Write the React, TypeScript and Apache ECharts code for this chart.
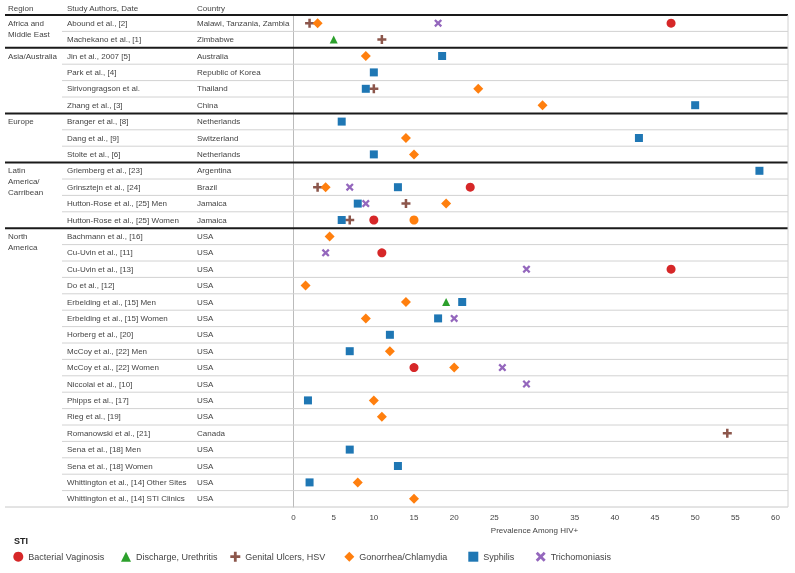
import React, { useEffect, useRef } from "react";
import * as echarts from "echarts";

const regions = ["Africa and\nMiddle East", "Asia/Australia", "Europe", "Latin\nAmerica/\nCarribean", "North\nAmerica"];
const regionSizes = [2, 4, 3, 4, 17];

const authors = [
  "Abound et al., [2]",
  "Machekano et al., [1]",
  "Jin et al., 2007 [5]",
  "Park et al., [4]",
  "Sirivongragson et al.",
  "Zhang et al., [3]",
  "Branger et al., [8]",
  "Dang et al., [9]",
  "Stolte et al., [6]",
  "Griemberg et al., [23]",
  "Grinsztejn et al., [24]",
  "Hutton-Rose et al., [25] Men",
  "Hutton-Rose et al., [25] Women",
  "Bachmann et al., [16]",
  "Cu-Uvin et al., [11]",
  "Cu-Uvin et al., [13]",
  "Do et al., [12]",
  "Erbelding et al., [15] Men",
  "Erbelding et al., [15] Women",
  "Horberg et al., [20]",
  "McCoy et al., [22] Men",
  "McCoy et al., [22] Women",
  "Niccolai et al., [10]",
  "Phipps et al., [17]",
  "Rieg et al., [19]",
  "Romanowski et al., [21]",
  "Sena et al., [18] Men",
  "Sena et al., [18] Women",
  "Whittington et al., [14] Other Sites",
  "Whittington et al., [14] STI Clinics",
];

const countries = [
  "Malawi, Tanzania, Zambia", "Zimbabwe",
  "Australia", "Republic of Korea", "Thailand", "China",
  "Netherlands", "Switzerland", "Netherlands",
  "Argentina", "Brazil", "Jamaica", "Jamaica",
  "USA", "USA", "USA", "USA", "USA", "USA", "USA", "USA", "USA", "USA", "USA", "USA",
  "Canada", "USA", "USA", "USA", "USA",
];

const seriesNames = ["Bacterial Vaginosis", "Discharge, Urethritis", "Genital Ulcers, HSV", "Gonorrhea/Chlamydia", "Syphilis", "Trichomoniasis"];

const bacterialVaginosis: [string, number][] = [
  ["Abound et al., [2]", 47],
  ["Grinsztejn et al., [24]", 22],
  ["Hutton-Rose et al., [25] Women", 10],
  ["Cu-Uvin et al., [11]", 11],
  ["Cu-Uvin et al., [13]", 47],
  ["McCoy et al., [22] Women", 15],
];
const dischargeUrethritis: [string, number][] = [
  ["Machekano et al., [1]", 5],
  ["Erbelding et al., [15] Men", 19],
];
const genitalUlcers: [string, number][] = [
  ["Abound et al., [2]", 2],
  ["Machekano et al., [1]", 11],
  ["Sirivongragson et al.", 10],
  ["Grinsztejn et al., [24]", 3],
  ["Hutton-Rose et al., [25] Men", 14],
  ["Hutton-Rose et al., [25] Women", 7],
  ["Romanowski et al., [21]", 54],
];
const gonorrheaChlamydia: [string, number][] = [
  ["Abound et al., [2]", 3],
  ["Jin et al., 2007 [5]", 9],
  ["Sirivongragson et al.", 23],
  ["Zhang et al., [3]", 31],
  ["Dang et al., [9]", 14],
  ["Stolte et al., [6]", 15],
  ["Grinsztejn et al., [24]", 4],
  ["Hutton-Rose et al., [25] Men", 19],
  ["Hutton-Rose et al., [25] Women", 15],
  ["Bachmann et al., [16]", 4.5],
  ["Do et al., [12]", 1.5],
  ["Erbelding et al., [15] Men", 14],
  ["Erbelding et al., [15] Women", 9],
  ["McCoy et al., [22] Men", 12],
  ["McCoy et al., [22] Women", 20],
  ["Phipps et al., [17]", 10],
  ["Rieg et al., [19]", 11],
  ["Whittington et al., [14] Other Sites", 8],
  ["Whittington et al., [14] STI Clinics", 15],
];
const gonorrheaCircleRows = ["Hutton-Rose et al., [25] Women"];
const syphilis: [string, number][] = [
  ["Jin et al., 2007 [5]", 18.5],
  ["Park et al., [4]", 10],
  ["Sirivongragson et al.", 9],
  ["Zhang et al., [3]", 50],
  ["Branger et al., [8]", 6],
  ["Dang et al., [9]", 43],
  ["Stolte et al., [6]", 10],
  ["Griemberg et al., [23]", 58],
  ["Grinsztejn et al., [24]", 13],
  ["Hutton-Rose et al., [25] Men", 8],
  ["Hutton-Rose et al., [25] Women", 6],
  ["Erbelding et al., [15] Men", 21],
  ["Erbelding et al., [15] Women", 18],
  ["Horberg et al., [20]", 12],
  ["McCoy et al., [22] Men", 7],
  ["Phipps et al., [17]", 1.8],
  ["Sena et al., [18] Men", 7],
  ["Sena et al., [18] Women", 13],
  ["Whittington et al., [14] Other Sites", 2],
];
const trichomoniasis: [string, number][] = [
  ["Abound et al., [2]", 18],
  ["Grinsztejn et al., [24]", 7],
  ["Hutton-Rose et al., [25] Men", 9],
  ["Cu-Uvin et al., [11]", 4],
  ["Cu-Uvin et al., [13]", 29],
  ["Erbelding et al., [15] Women", 20],
  ["McCoy et al., [22] Women", 26],
  ["Niccolai et al., [10]", 29],
];

const xTicks = [0, 60, 5];

const FONT = "'Liberation Sans', Arial, sans-serif";
const TEXT = "#444";
const PLUS = "path://M3.6,0H6.4V3.6H10V6.4H6.4V10H3.6V6.4H0V3.6H3.6Z";
const CROSS = "path://M0,2L2,0L5,3L8,0L10,2L7,5L10,8L8,10L5,7L2,10L0,8L3,5Z";

const colors = ["#d62728", "#2ca02c", "#8c564b", "#ff7f0e", "#1f77b4", "#9467bd"];
const symbols = ["circle", "triangle", PLUS, "diamond", "rect", CROSS];
const sizes = [9, 8, 9, 10, 8, 8];
const allData = [bacterialVaginosis, dischargeUrethritis, genitalUlcers, gonorrheaChlamydia, syphilis, trichomoniasis];
const legendIconCenters = [18.3, 126, 235.3, 349.3, 473.3, 540.7];

const LINE_RIGHT = 788;
const AUTHOR_X = 67;
const COUNTRY_X = 197;

export default function App() {
  const ref = useRef<HTMLDivElement>(null);
  useEffect(() => {
    if (!ref.current) return;
    const chart = echarts.init(ref.current, null, { renderer: "svg" });
    const gridLeft = 293.5;
    const option: any = {
      animation: false,
      textStyle: { fontFamily: FONT },
      grid: { left: gridLeft, right: 795 - 775.5, top: 15, bottom: 66, containLabel: false },
      legend: seriesNames.map((nm, i) => ({
        left: legendIconCenters[i] - 5,
        top: 551.7,
        padding: 0,
        itemWidth: 10,
        itemHeight: 10,
        itemGap: 0,
        textStyle: { fontSize: 9, color: TEXT, fontFamily: FONT },
        data: [nm],
      })),
      xAxis: {
        type: "value",
        min: xTicks[0],
        max: xTicks[1],
        interval: xTicks[2],
        name: "Prevalence Among HIV+",
        nameLocation: "middle",
        nameGap: 19,
        nameTextStyle: { fontSize: 8, color: TEXT },
        axisLine: { show: false },
        axisTick: { show: false },
        splitLine: { show: false },
        axisLabel: { fontSize: 8, color: TEXT, margin: 6 },
      },
      yAxis: {
        type: "category",
        inverse: true,
        data: authors,
        axisLine: { show: true, lineStyle: { color: "#bbb" } },
        axisTick: { show: false },
        splitLine: { show: false },
        axisLabel: {
          interval: 0,
          align: "left",
          margin: gridLeft - AUTHOR_X,
          fontSize: 8,
          color: TEXT,
          formatter: (v: string, i: number) => `{a|${v}}{c|${countries[i]}}`,
          rich: {
            a: { width: COUNTRY_X - AUTHOR_X, fontSize: 8, color: TEXT, fontFamily: FONT },
            c: { fontSize: 8, color: TEXT, fontFamily: FONT },
          },
        },
      },
      series: allData.map((d, si) => ({
        type: "scatter",
        name: seriesNames[si],
        symbol: symbols[si],
        symbolSize: sizes[si],
        itemStyle: { color: colors[si], opacity: 1 },
        z: 3,
        data: d.map(([a, v]) =>
          si === 3 && gonorrheaCircleRows.includes(a)
            ? { value: [v, a], symbol: "circle", symbolSize: 9 }
            : [v, a]
        ),
      })),
    };
    chart.setOption(option);

    const yc = authors.map((a) => chart.convertToPixel({ yAxisIndex: 0 }, a) as number);
    const rowH = yc[1] - yc[0];
    const n = authors.length;
    const b: number[] = [];
    for (let i = 0; i < n; i++) b.push(yc[i] - rowH / 2);
    b.push(yc[n - 1] + rowH / 2);

    const regionStarts: number[] = [];
    let acc = 0;
    regionSizes.forEach((s) => {
      regionStarts.push(acc);
      acc += s;
    });

    const graphics: any[] = [];
    const hline = (y: number, x1: number, x2: number, color: string, w: number) =>
      graphics.push({
        type: "line",
        silent: true,
        z: 1,
        shape: { x1, y1: y, x2, y2: y },
        style: { stroke: color, lineWidth: w },
      });
    for (let i = 1; i < n; i++) {
      if (!regionStarts.includes(i)) hline(b[i], 62, LINE_RIGHT, "#d2d2d2", 1);
    }
    hline(b[n], 5, LINE_RIGHT, "#c8c8c8", 1);
    regionStarts.forEach((s) => hline(b[s], 5, LINE_RIGHT, "#1a1a1a", 2));
    graphics.push({
      type: "line",
      silent: true,
      z: 1,
      shape: { x1: LINE_RIGHT, y1: b[0], x2: LINE_RIGHT, y2: b[n] },
      style: { stroke: "#d2d2d2", lineWidth: 1 },
    });
    const txt = (x: number, y: number, text: string, extra: any = {}) =>
      graphics.push({
        type: "text",
        silent: true,
        x,
        y,
        style: { text, fill: TEXT, fontSize: 8, fontFamily: FONT, lineHeight: 11, verticalAlign: "middle", ...extra },
      });
    txt(8, b[0] - 7, "Region");
    txt(AUTHOR_X, b[0] - 7, "Study Authors, Date");
    txt(COUNTRY_X, b[0] - 7, "Country");
    regions.forEach((r, k) => {
      txt(8, yc[regionStarts[k]] - 5.5, r, { verticalAlign: "top" });
    });
    txt(14, 541, "STI", { fontWeight: "bold", fontSize: 9, fill: "#222" });
    chart.setOption({ graphic: graphics });

    return () => chart.dispose();
  }, []);
  return <div ref={ref} style={{ position: "fixed", left: 0, top: 0, width: 795, height: 573 }} />;
}
